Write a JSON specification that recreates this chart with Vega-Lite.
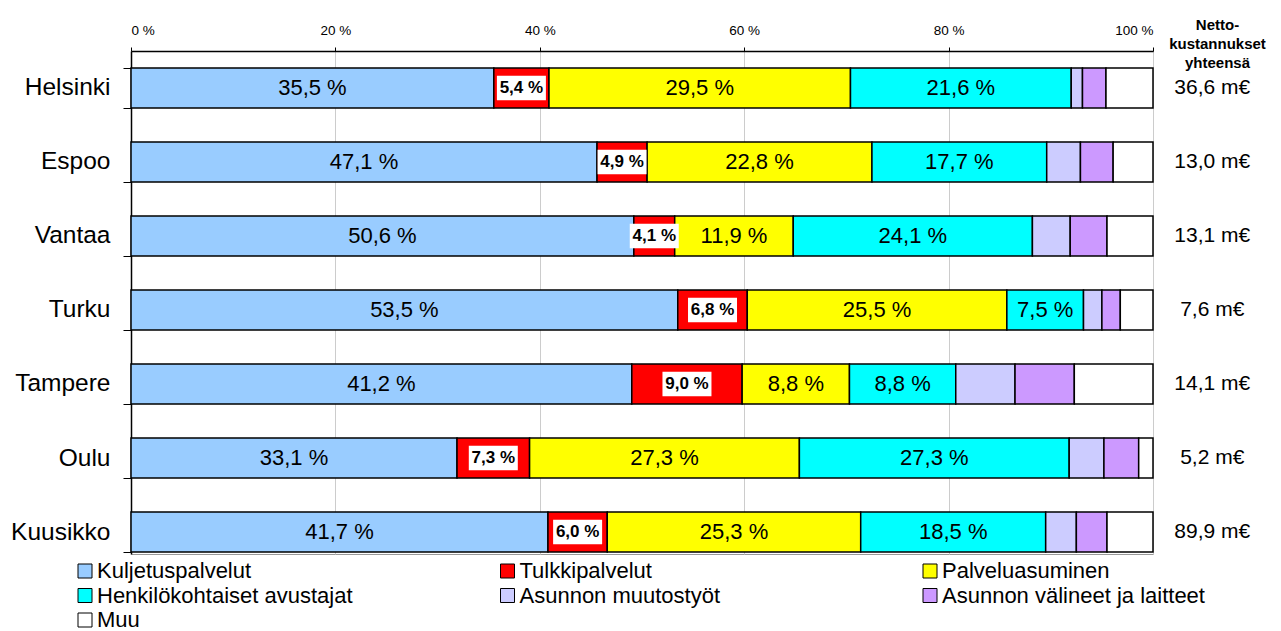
{
  "$schema": "https://vega.github.io/schema/vega-lite/v6.json",
  "width": 1022,
  "height": 503,
  "autosize": {"type": "none"},
  "padding": {"left": 131, "top": 51, "right": 128, "bottom": 77},
  "background": "white",
  "config": {
    "font": "Liberation Sans",
    "view": {"stroke": "#999999", "strokeWidth": 1}
  },
  "datasets": {
    "seg": [
      {"city": "Helsinki", "cat": "Kuljetuspalvelut", "k": 1, "v": 35.5, "lab": "35,5 %"},
      {"city": "Helsinki", "cat": "Tulkkipalvelut", "k": 2, "v": 5.4, "lab": "5,4 %"},
      {"city": "Helsinki", "cat": "Palveluasuminen", "k": 3, "v": 29.5, "lab": "29,5 %"},
      {"city": "Helsinki", "cat": "Henkilökohtaiset avustajat", "k": 4, "v": 21.6, "lab": "21,6 %"},
      {"city": "Helsinki", "cat": "Asunnon muutostyöt", "k": 5, "v": 1.1, "lab": ""},
      {"city": "Helsinki", "cat": "Asunnon  välineet ja laitteet", "k": 6, "v": 2.3, "lab": ""},
      {"city": "Helsinki", "cat": "Muu", "k": 7, "v": 4.6, "lab": ""},
      {"city": "Espoo", "cat": "Kuljetuspalvelut", "k": 1, "v": 45.6, "lab": "47,1 %"},
      {"city": "Espoo", "cat": "Tulkkipalvelut", "k": 2, "v": 4.9, "lab": "4,9 %"},
      {"city": "Espoo", "cat": "Palveluasuminen", "k": 3, "v": 22.0, "lab": "22,8 %"},
      {"city": "Espoo", "cat": "Henkilökohtaiset avustajat", "k": 4, "v": 17.1, "lab": "17,7 %"},
      {"city": "Espoo", "cat": "Asunnon muutostyöt", "k": 5, "v": 3.3, "lab": ""},
      {"city": "Espoo", "cat": "Asunnon  välineet ja laitteet", "k": 6, "v": 3.2, "lab": ""},
      {"city": "Espoo", "cat": "Muu", "k": 7, "v": 3.9, "lab": ""},
      {"city": "Vantaa", "cat": "Kuljetuspalvelut", "k": 1, "v": 49.2, "lab": "50,6 %"},
      {"city": "Vantaa", "cat": "Tulkkipalvelut", "k": 2, "v": 4.0, "lab": "4,1 %"},
      {"city": "Vantaa", "cat": "Palveluasuminen", "k": 3, "v": 11.6, "lab": "11,9 %"},
      {"city": "Vantaa", "cat": "Henkilökohtaiset avustajat", "k": 4, "v": 23.4, "lab": "24,1 %"},
      {"city": "Vantaa", "cat": "Asunnon muutostyöt", "k": 5, "v": 3.7, "lab": ""},
      {"city": "Vantaa", "cat": "Asunnon  välineet ja laitteet", "k": 6, "v": 3.6, "lab": ""},
      {"city": "Vantaa", "cat": "Muu", "k": 7, "v": 4.5, "lab": ""},
      {"city": "Turku", "cat": "Kuljetuspalvelut", "k": 1, "v": 53.5, "lab": "53,5 %"},
      {"city": "Turku", "cat": "Tulkkipalvelut", "k": 2, "v": 6.8, "lab": "6,8 %"},
      {"city": "Turku", "cat": "Palveluasuminen", "k": 3, "v": 25.4, "lab": "25,5 %"},
      {"city": "Turku", "cat": "Henkilökohtaiset avustajat", "k": 4, "v": 7.5, "lab": "7,5 %"},
      {"city": "Turku", "cat": "Asunnon muutostyöt", "k": 5, "v": 1.8, "lab": ""},
      {"city": "Turku", "cat": "Asunnon  välineet ja laitteet", "k": 6, "v": 1.8, "lab": ""},
      {"city": "Turku", "cat": "Muu", "k": 7, "v": 3.2, "lab": ""},
      {"city": "Tampere", "cat": "Kuljetuspalvelut", "k": 1, "v": 49.0, "lab": "41,2 %"},
      {"city": "Tampere", "cat": "Tulkkipalvelut", "k": 2, "v": 10.8, "lab": "9,0 %"},
      {"city": "Tampere", "cat": "Palveluasuminen", "k": 3, "v": 10.5, "lab": "8,8 %"},
      {"city": "Tampere", "cat": "Henkilökohtaiset avustajat", "k": 4, "v": 10.4, "lab": "8,8 %"},
      {"city": "Tampere", "cat": "Asunnon muutostyöt", "k": 5, "v": 5.8, "lab": ""},
      {"city": "Tampere", "cat": "Asunnon  välineet ja laitteet", "k": 6, "v": 5.8, "lab": ""},
      {"city": "Tampere", "cat": "Muu", "k": 7, "v": 7.7, "lab": ""},
      {"city": "Oulu", "cat": "Kuljetuspalvelut", "k": 1, "v": 31.9, "lab": "33,1 %"},
      {"city": "Oulu", "cat": "Tulkkipalvelut", "k": 2, "v": 7.1, "lab": "7,3 %"},
      {"city": "Oulu", "cat": "Palveluasuminen", "k": 3, "v": 26.4, "lab": "27,3 %"},
      {"city": "Oulu", "cat": "Henkilökohtaiset avustajat", "k": 4, "v": 26.4, "lab": "27,3 %"},
      {"city": "Oulu", "cat": "Asunnon muutostyöt", "k": 5, "v": 3.4, "lab": ""},
      {"city": "Oulu", "cat": "Asunnon  välineet ja laitteet", "k": 6, "v": 3.4, "lab": ""},
      {"city": "Oulu", "cat": "Muu", "k": 7, "v": 1.4, "lab": ""},
      {"city": "Kuusikko", "cat": "Kuljetuspalvelut", "k": 1, "v": 40.8, "lab": "41,7 %"},
      {"city": "Kuusikko", "cat": "Tulkkipalvelut", "k": 2, "v": 5.8, "lab": "6,0 %"},
      {"city": "Kuusikko", "cat": "Palveluasuminen", "k": 3, "v": 24.8, "lab": "25,3 %"},
      {"city": "Kuusikko", "cat": "Henkilökohtaiset avustajat", "k": 4, "v": 18.1, "lab": "18,5 %"},
      {"city": "Kuusikko", "cat": "Asunnon muutostyöt", "k": 5, "v": 3.0, "lab": ""},
      {"city": "Kuusikko", "cat": "Asunnon  välineet ja laitteet", "k": 6, "v": 3.0, "lab": ""},
      {"city": "Kuusikko", "cat": "Muu", "k": 7, "v": 4.5, "lab": ""}
    ],
    "tot": [
      {"city": "Helsinki", "tot": "36,6 m€"},
      {"city": "Espoo", "tot": "13,0 m€"},
      {"city": "Vantaa", "tot": "13,1 m€"},
      {"city": "Turku", "tot": "7,6 m€"},
      {"city": "Tampere", "tot": "14,1 m€"},
      {"city": "Oulu", "tot": "5,2 m€"},
      {"city": "Kuusikko", "tot": "89,9 m€"}
    ]
  },
  "layer": [
    {
      "data": {"name": "seg"},
      "transform": [
        {"stack": "v", "groupby": ["city"], "sort": [{"field": "k", "order": "ascending"}], "as": ["x0", "x1"]}
      ],
      "mark": {"type": "bar", "stroke": "black", "strokeWidth": 1.5},
      "encoding": {
        "y": {
          "field": "city", "type": "nominal",
          "sort": ["Helsinki", "Espoo", "Vantaa", "Turku", "Tampere", "Oulu", "Kuusikko"],
          "scale": {"paddingInner": 0.46, "paddingOuter": 0.128, "align": 0.895},
          "axis": {
            "orient": "left", "title": null, "grid": false,
            "tickBand": "extent", "tickSize": 8, "tickColor": "black", "tickWidth": 1,
            "domainColor": "black", "domainWidth": 1.5,
            "labelFontSize": 24.5, "labelColor": "black", "labelPadding": 13
          }
        },
        "x": {
          "field": "x0", "type": "quantitative",
          "scale": {"domain": [0, 100], "nice": false},
          "axis": {
            "orient": "top",
            "values": [0, 20, 40, 60, 80, 100],
            "labelExpr": "datum.value + ' %'",
            "labelFontSize": 13.5, "labelColor": "black", "labelPadding": 10,
            "tickSize": 4, "tickColor": "black", "tickWidth": 1,
            "domainColor": "black", "domainWidth": 1.5,
            "grid": true, "gridColor": "#cccccc", "gridWidth": 1,
            "title": ["Netto-", "kustannukset", "yhteensä"],
            "titleFontSize": 15, "titleFontWeight": "bold", "titleColor": "black",
            "titleX": 1086, "titleY": -34, "titleAlign": "center", "titleBaseline": "top",
            "titleLineHeight": 19, "titleAngle": 0
          }
        },
        "x2": {"field": "x1"},
        "color": {
          "field": "cat", "type": "nominal",
          "scale": {
            "domain": ["Kuljetuspalvelut", "Tulkkipalvelut", "Palveluasuminen", "Henkilökohtaiset avustajat", "Asunnon muutostyöt", "Asunnon  välineet ja laitteet", "Muu"],
            "range": ["#99CCFF", "#FF0000", "#FFFF00", "#00FFFF", "#CCCCFF", "#CC99FF", "#FFFFFF"]
          },
          "legend": {
            "title": null, "orient": "none", "legendX": -57, "legendY": 509,
            "direction": "horizontal",
            "columns": 3, "gridAlign": "all", "columnPadding": 129.5, "rowPadding": 2.5,
            "padding": 0,
            "symbolType": "square", "symbolSize": 196, "symbolStrokeColor": "black", "symbolStrokeWidth": 1,
            "labelFontSize": 22, "labelColor": "black", "labelOffset": 1, "labelLimit": 500
          }
        }
      }
    },
    {
      "data": {"name": "seg"},
      "transform": [
        {"stack": "v", "groupby": ["city"], "sort": [{"field": "k", "order": "ascending"}], "as": ["x0", "x1"]},
        {"filter": "datum.k == 2"},
        {"fold": ["x0", "x1"], "as": ["end", "pos"]}
      ],
      "mark": {"type": "point", "shape": "M-1,-0.5H1V0.5H-1Z", "filled": true, "fill": "white", "opacity": 1, "strokeWidth": 0, "size": 2401},
      "encoding": {
        "y": {"field": "city", "type": "nominal", "sort": ["Helsinki", "Espoo", "Vantaa", "Turku", "Tampere", "Oulu", "Kuusikko"]},
        "x": {"aggregate": "mean", "field": "pos", "type": "quantitative"}
      }
    },
    {
      "data": {"name": "seg"},
      "transform": [
        {"stack": "v", "groupby": ["city"], "sort": [{"field": "k", "order": "ascending"}], "as": ["x0", "x1"]},
        {"filter": "datum.k == 2"},
        {"fold": ["x0", "x1"], "as": ["end", "pos"]}
      ],
      "mark": {"type": "text", "fontSize": 17, "fontWeight": "bold", "color": "black", "baseline": "middle", "align": "center"},
      "encoding": {
        "y": {"field": "city", "type": "nominal", "sort": ["Helsinki", "Espoo", "Vantaa", "Turku", "Tampere", "Oulu", "Kuusikko"]},
        "x": {"aggregate": "mean", "field": "pos", "type": "quantitative"},
        "text": {"field": "lab", "type": "nominal"}
      }
    },
    {
      "data": {"name": "seg"},
      "transform": [
        {"stack": "v", "groupby": ["city"], "sort": [{"field": "k", "order": "ascending"}], "as": ["x0", "x1"]},
        {"filter": "datum.k <= 4 && datum.k != 2"},
        {"fold": ["x0", "x1"], "as": ["end", "pos"]}
      ],
      "mark": {"type": "text", "fontSize": 22, "color": "black", "baseline": "middle", "align": "center"},
      "encoding": {
        "y": {"field": "city", "type": "nominal", "sort": ["Helsinki", "Espoo", "Vantaa", "Turku", "Tampere", "Oulu", "Kuusikko"]},
        "x": {"aggregate": "mean", "field": "pos", "type": "quantitative"},
        "detail": {"field": "cat", "type": "nominal"},
        "text": {"field": "lab", "type": "nominal"}
      }
    },
    {
      "data": {"name": "tot"},
      "mark": {"type": "text", "fontSize": 21, "color": "black", "baseline": "middle", "align": "center"},
      "encoding": {
        "y": {"field": "city", "type": "nominal", "sort": ["Helsinki", "Espoo", "Vantaa", "Turku", "Tampere", "Oulu", "Kuusikko"]},
        "x": {"datum": 105.8, "type": "quantitative"},
        "text": {"field": "tot", "type": "nominal"}
      }
    }
  ]
}
